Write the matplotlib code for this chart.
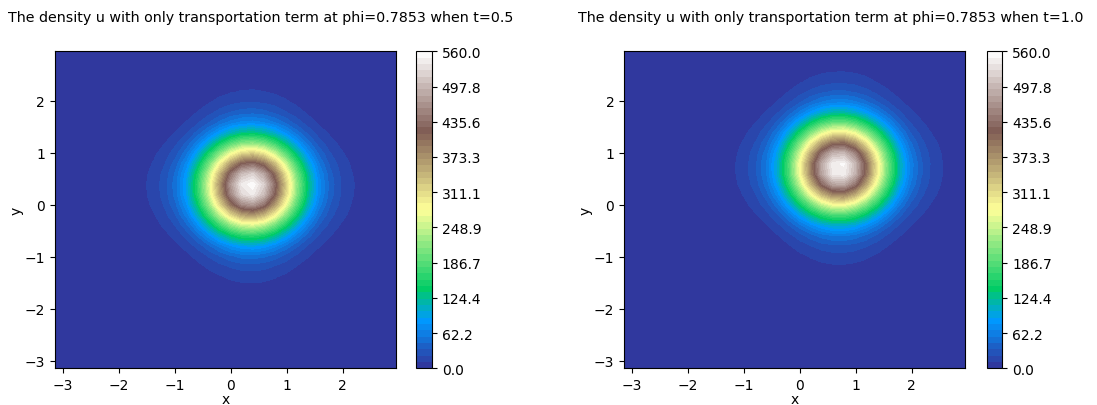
import numpy as np
import matplotlib.pyplot as plt

# grid on [-pi, pi) with 32 points per side
N = 32
phi = 0.7853
times = [0.5, 1.0]
peak = 560.0
sigma = 0.6     # width of the gaussian core
core = 1.08     # where the profile switches to an exponential tail
vmax = 560.0
n_levels = 50
cbar_ticks = np.linspace(0, vmax, 10)

x = -np.pi + 2 * np.pi * np.arange(N) / N
X, Y = np.meshgrid(x, x)


def tail_profile(d):
    d = np.abs(d)
    inner = d**2 / (2 * sigma**2)
    outer = core / sigma**2 * d - core**2 / (2 * sigma**2)
    return np.where(d < core, inner, outer)


def density(t):
    # initial bump carried along (cos phi, sin phi)
    cx = t * np.cos(phi)
    cy = t * np.sin(phi)
    return peak * np.exp(-(tail_profile(X - cx) + tail_profile(Y - cy)))


fig = plt.figure(figsize=(10.97, 4.06), dpi=100)
levels = np.linspace(0, vmax, n_levels + 1)

ax_left = [0.0501, 0.5688]
cb_left = [0.3795, 0.8993]
title_x = [0.238, 0.7575]
bottom, height = 0.0904, 0.7808

for i, t in enumerate(times):
    ax = fig.add_axes([ax_left[i], bottom, 0.3106, height])
    cax = fig.add_axes([cb_left[i], bottom, 0.0143, height])
    cs = ax.contourf(X, Y, density(t), levels=levels, cmap='terrain')
    ax.set_xlabel('x', labelpad=0)
    ax.set_ylabel('y', labelpad=1)
    cb = fig.colorbar(cs, cax=cax, ticks=cbar_ticks, format='%.1f')
    fig.text(title_x[i], 0.945, 'The density u with only transportation term at phi=%s when t=%s' % (phi, t),
             ha='center', va='baseline', fontsize=10.3)

fig.savefig('out.png', dpi=100)
